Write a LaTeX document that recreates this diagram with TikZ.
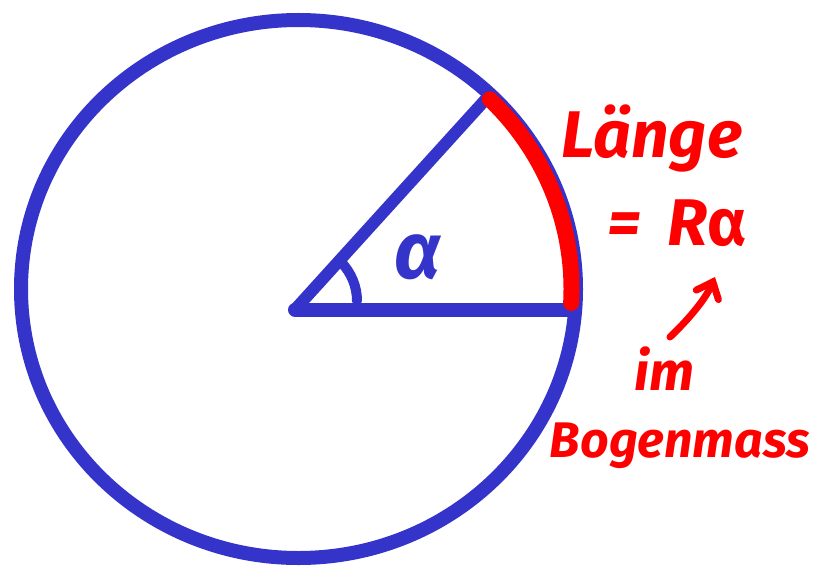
\documentclass[tikz,border=0pt]{standalone}
\usepackage{fontspec}
\newfontfamily\hand{Fira Sans}
\usetikzlibrary{arrows.meta}
\definecolor{cblue}{RGB}{52,52,202}
\definecolor{cred}{RGB}{255,0,0}
\tikzset{
  blueline/.style={draw=cblue, line cap=round, line join=round},
  redtext/.style={text=cred, font=\hand\bfseries\itshape, inner sep=0pt},
}
\begin{document}
\begin{tikzpicture}[x=1pt,y=-1pt]
\useasboundingbox (0,0) rectangle (821,575);
\coordinate (C) at (298.5,289);
\coordinate (O) at (295,309.5);
\coordinate (A) at (575,309.5);
\coordinate (B) at (486,99);
% circle
\draw[cblue, line width=14] (C) ellipse [x radius=277.5, y radius=269];
% radii
\draw[blueline, line width=14] (O) -- (A);
\draw[blueline, line width=12] (O) -- (B);
% angle mark
\coordinate (P1) at (342,263);
\coordinate (P2) at (357,301);
\draw[blueline, line width=10] (P1) .. controls (351,273) and (357,286) .. (P2);
\node[text=cblue, font=\hand\bfseries\itshape, inner sep=0pt] (alpha) at (418,257) {\fontsize{80}{80}\selectfont α};
% red arc
\draw[cred, line width=16, line cap=round] ([shift={(-45.5:273 and 266)}]C) arc [start angle=-45.5, end angle=3, x radius=273, y radius=266];
% texts
\node[redtext, anchor=base] (laenge) at (652,157) {\fontsize{66}{66}\selectfont Länge};
\node[redtext, anchor=base] (formula) at (677,245) {\fontsize{66}{66}\selectfont =\hspace{0.4em}R\textup{α}};
\node[redtext, anchor=base] (im) at (664,390) {\fontsize{54}{54}\selectfont im};
\node[redtext, anchor=base] (bogen) at (680,457) {\fontsize{50}{50}\selectfont Bogenmass};
% arrow
\coordinate (S) at (670,337);
\coordinate (T) at (715,277);
\draw[cred, line width=7, line cap=round, -{Straight Barb[length=14pt, width=24pt, line cap=round]}] (S) .. controls (690,318) and (706,298) .. (T);
\end{tikzpicture}
\end{document}
